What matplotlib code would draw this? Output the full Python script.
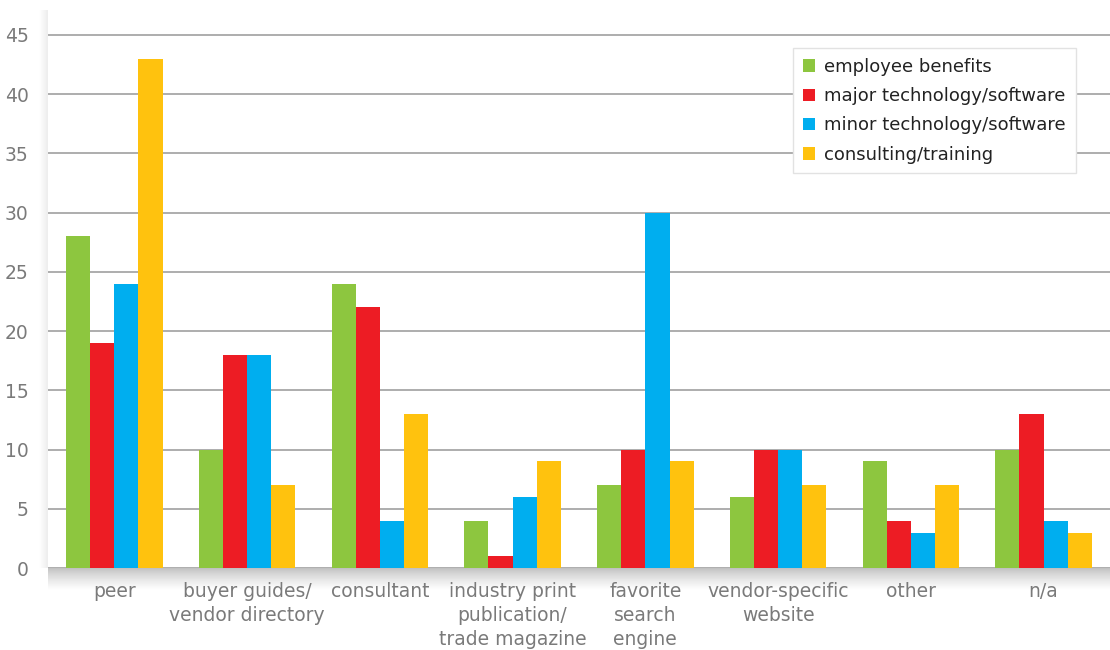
import matplotlib
matplotlib.use("Agg")
import matplotlib.pyplot as plt
import numpy as np

categories = ["peer", "buyer guides/\nvendor directory", "consultant",
              "industry print\npublication/\ntrade magazine", "favorite\nsearch\nengine",
              "vendor-specific\nwebsite", "other", "n/a"]
series_names = ["employee benefits", "major technology/software",
                "minor technology/software", "consulting/training"]
employee_benefits = [28, 10, 24, 4, 7, 6, 9, 10]
major_tech = [19, 18, 22, 1, 10, 10, 4, 13]
minor_tech = [24, 18, 4, 6, 30, 10, 3, 4]
consulting = [43, 7, 13, 9, 9, 7, 7, 3]
yticks = [0, 5, 10, 15, 20, 25, 30, 35, 40, 45]

colors = ["#8DC63F", "#ED1C24", "#00AEEF", "#FFC20E"]
series = [employee_benefits, major_tech, minor_tech, consulting]

plt.rcParams['font.family'] = ['DejaVu Sans']
fig = plt.figure(figsize=(11.1, 6.5), dpi=100)
fig.patch.set_facecolor("white")

# soft shadow under the axis
grad = (0.72 + 0.28 * np.linspace(0, 1, 60) ** 0.7).reshape(-1, 1)
sh = fig.add_axes([0.043, 0.092, 0.957, 0.035])
sh.imshow(np.repeat(grad, 2, axis=1), cmap="gray", vmin=0, vmax=1, aspect="auto",
          extent=[0, 1, 0, 1], origin="upper")
sh.set_axis_off()

# faint shadow on the left edge of the panel
gl = (0.93 + 0.07 * np.linspace(0, 1, 20)).reshape(1, -1)[:, ::-1]
shl = fig.add_axes([0.035, 0.126, 0.008, 0.8585])
shl.imshow(np.repeat(gl, 2, axis=0), cmap="gray", vmin=0, vmax=1, aspect="auto",
           extent=[0, 1, 0, 1])
shl.set_axis_off()

ax = fig.add_axes([0.0432, 0.126, 0.9568, 0.8585])
x = np.arange(len(categories))
w = 0.182
for i, (vals, c) in enumerate(zip(series, colors)):
    ax.bar(x + (i - 1.5) * w, vals, width=w, color=c, label=series_names[i], zorder=3)

ax.set_xlim(-0.5, 7.5)
ax.set_ylim(0, 47.1)
ax.set_yticks(yticks)
ax.yaxis.grid(True, color="#a0a0a0", linewidth=1.2, zorder=0)
ax.set_axisbelow(True)
for s in ax.spines.values():
    s.set_visible(False)
ax.tick_params(axis="y", length=0, labelsize=13.5, labelcolor="#7a7a7a", pad=14)
ax.tick_params(axis="x", length=0, labelsize=13.5, labelcolor="#7a7a7a", pad=10)
ax.set_xticks(x)
ax.set_xticklabels(categories, linespacing=1.33)

leg = ax.legend(loc="upper right", bbox_to_anchor=(0.968, 0.932), fontsize=13,
                frameon=True, fancybox=False, handlelength=0.7, handleheight=0.7,
                handletextpad=0.5, borderpad=0.55, labelspacing=0.62, framealpha=1,
                edgecolor="#e2e2e2", borderaxespad=0)
for t in leg.get_texts():
    t.set_color("#222222")
leg.set_zorder(10)

fig.savefig("out.png", dpi=100, facecolor="white")
